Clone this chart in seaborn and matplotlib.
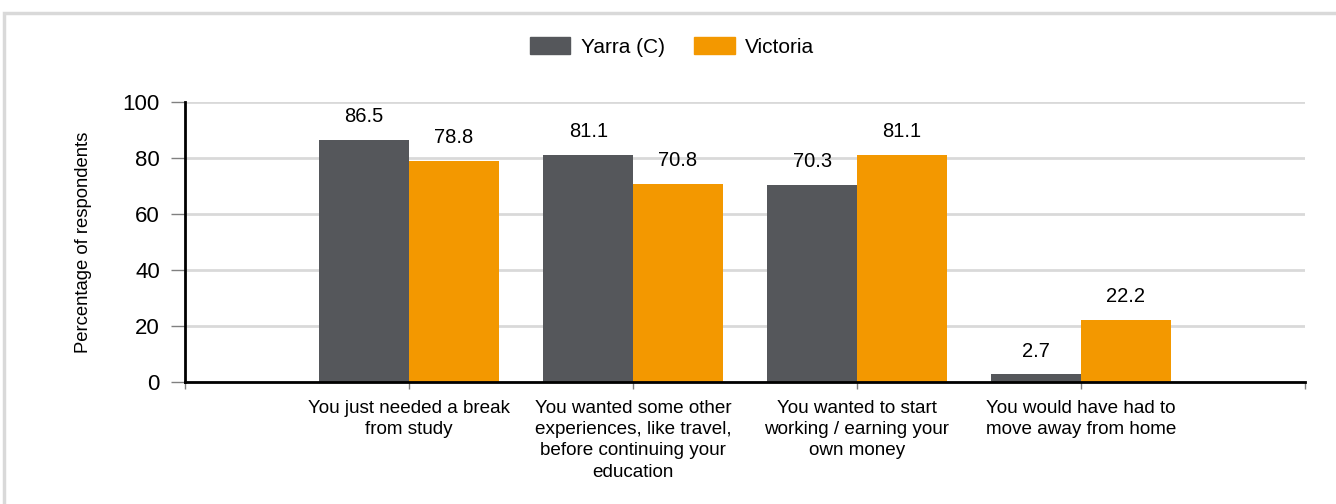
import matplotlib
matplotlib.use('Agg')
import matplotlib.pyplot as plt
from matplotlib.patches import Rectangle
import seaborn as sns
import pandas as pd

reasons = ['You just needed a break\nfrom study',
           'You wanted some other\nexperiences, like travel,\nbefore continuing your\neducation',
           'You wanted to start\nworking / earning your\nown money',
           'You would have had to\nmove away from home']
yarra = [86.5, 81.1, 70.3, 2.7]
victoria = [78.8, 70.8, 81.1, 22.2]
series = ['Yarra (C)', 'Victoria']
colours = ['#55575b', '#f39800']

df = pd.DataFrame({
    'reason': reasons * 2,
    'area': [series[0]] * len(reasons) + [series[1]] * len(reasons),
    'value': yarra + victoria,
})

sns.set_style('white')
plt.rcParams['font.family'] = ['Liberation Sans', 'DejaVu Sans']
plt.rcParams['text.color'] = 'black'
plt.rcParams['axes.labelcolor'] = 'black'

fig = plt.figure(figsize=(13.36, 5.04), dpi=100)
ax = fig.add_axes([185 / 1336, 1 - 382 / 504, 1120 / 1336, 280 / 504])

sns.barplot(data=df, x='reason', y='value', hue='area', palette=colours,
            width=0.8, saturation=1, linewidth=0, ax=ax, legend=False)

for cont in ax.containers:
    ax.bar_label(cont, fmt='%.1f', padding=10, fontsize=14.5, color='black')

ax.set_xlim(-1, 4)
ax.set_ylim(0, 100)
ax.set_yticks([0, 20, 40, 60, 80, 100])
ax.tick_params(axis='y', labelsize=16, length=10, width=1, color='#808080',
               labelcolor='black', pad=8, left=True)
ax.set_xticks([-1, 0, 1, 2, 3, 4])
ax.set_xticklabels([''] + reasons + [''], fontsize=13.6, linespacing=1.32)
ax.tick_params(axis='x', length=5, width=1, color='#808080',
               labelcolor='black', pad=8, bottom=True)

ax.grid(axis='y', color='#d9d9d9', linewidth=2)
ax.set_axisbelow(True)
for s in ['top', 'right']:
    ax.spines[s].set_visible(False)
for s in ['left', 'bottom']:
    ax.spines[s].set_color('black')
    ax.spines[s].set_linewidth(2)

ax.set_xlabel('')
ax.set_ylabel('Percentage of respondents', fontsize=13.3, labelpad=22)

handles = [Rectangle((0, 0), 1, 1, color=c) for c in colours]
fig.legend(handles, series, loc='center', bbox_to_anchor=(0.503, 1 - 47 / 504),
           ncol=2, frameon=False, fontsize=15, handlelength=1.95, handleheight=0.9,
           handletextpad=0.5, columnspacing=1.4, labelcolor='black')

fig.patches.append(Rectangle((4 / 1336, -0.1), 1.2, 1 - 12.5 / 504 + 0.1,
                             transform=fig.transFigure, fill=False,
                             edgecolor='#d9d9d9', linewidth=2.5, clip_on=False))

fig.savefig('out.png', dpi=100)
